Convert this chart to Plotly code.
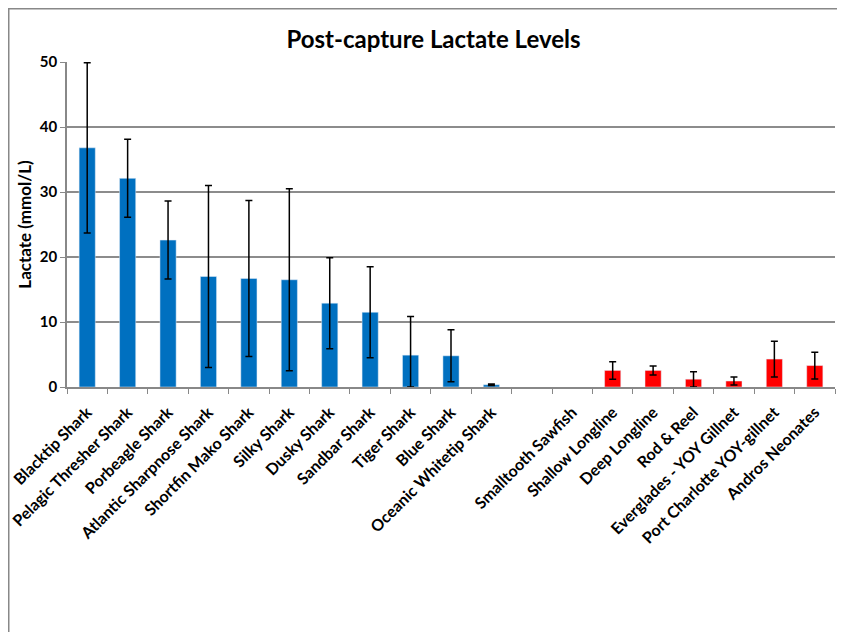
import plotly.graph_objects as go

categories = [
    "Blacktip Shark", "Pelagic Thresher Shark", "Porbeagle Shark",
    "Atlantic Sharpnose Shark", "Shortfin Mako Shark", "Silky Shark",
    "Dusky Shark", "Sandbar Shark", "Tiger Shark", "Blue Shark",
    "Oceanic Whitetip Shark", " ", "Smalltooth Sawfish",
    "Shallow Longline", "Deep Longline", "Rod & Reel",
    "Everglades - YOY Gillnet", "Port Charlotte YOY-gillnet", "Andros Neonates",
]

shark_values = [36.8, 32.1, 22.6, 17.0, 16.7, 16.5, 12.9, 11.5, 4.9, 4.8, 0.35,
                None, None, None, None, None, None, None, None]
shark_err_up = [13.1, 6.0, 6.0, 14.0, 12.0, 14.0, 7.0, 7.0, 5.95, 4.0, 0.1,
                None, None, None, None, None, None, None, None]
shark_err_down = [13.1, 6.0, 6.0, 14.0, 12.0, 14.0, 7.0, 7.0, 4.9, 4.0, 0.1,
                  None, None, None, None, None, None, None, None]

other_values = [None] * 13 + [2.55, 2.55, 1.2, 0.92, 4.3, 3.3]
other_err_up = [None] * 13 + [1.35, 0.7, 1.15, 0.62, 2.75, 2.05]
other_err_down = [None] * 13 + [1.35, 0.7, 1.2, 0.6, 2.75, 2.05]

y_ticks = [0, 10, 20, 30, 40, 50]

FONT = "Lato"
W, H = 837, 624          # page body has an 8px margin
L, R, T, B = 59, 10, 54, 245
PW, PH = W - L - R, H - T - B

fig = go.Figure()
fig.add_trace(go.Bar(
    x=categories, y=shark_values, marker_color="#0070C0",
    error_y=dict(type="data", symmetric=False, array=shark_err_up,
                 arrayminus=shark_err_down, color="black", thickness=1.5, width=3.5),
))
fig.add_trace(go.Bar(
    x=categories, y=other_values, marker_color="#FF0000",
    error_y=dict(type="data", symmetric=False, array=other_err_up,
                 arrayminus=other_err_down, color="black", thickness=1.5, width=3.5),
))

fig.update_layout(
    width=W, height=H,
    margin=dict(l=L, r=R, t=T, b=B, autoexpand=False),
    barmode="overlay", bargap=0.6,
    showlegend=False,
    plot_bgcolor="white", paper_bgcolor="white",
    font=dict(family=FONT, color="black"),
    title=dict(text="<b>Post-capture Lactate Levels</b>", x=425.5 / W, xanchor="center",
               y=1 - 32 / H, yanchor="middle", yref="container",
               font=dict(family=FONT, size=24, color="black")),
    xaxis=dict(
        type="category", categoryorder="array", categoryarray=categories,
        range=[-0.5, len(categories) - 0.5], automargin=False,
        tickson="boundaries", ticks="outside", ticklen=5, tickcolor="#888888",
        showline=True, linecolor="#888888", linewidth=1.5,
        tickangle=-45, ticklabelstandoff=8,
        tickfont=dict(family=FONT, size=16, weight="bold", color="black"),
        showgrid=False,
    ),
    yaxis=dict(
        range=[0, 50], tickvals=y_ticks, ticks="outside", ticklen=5, tickcolor="#888888",
        showline=True, linecolor="#888888", linewidth=1.5, automargin=False,
        showgrid=True, gridcolor="#8c8c8c", gridwidth=1.5,
        zeroline=False,
        tickfont=dict(family=FONT, size=15, weight="bold", color="black"),
        title=dict(text="<b>Lactate (mmol/L)</b>", standoff=4,
                   font=dict(family=FONT, size=17, color="black")),
    ),
    shapes=[dict(type="rect", xref="paper", yref="paper",
                 x0=(0.75 - L) / PW, x1=(W + 20 - L) / PW,
                 y0=(H - B - 0.75) / PH, y1=-(B + 20) / PH,
                 line=dict(color="#888888", width=1.5), layer="below")],
)

fig.write_html("out.html")
